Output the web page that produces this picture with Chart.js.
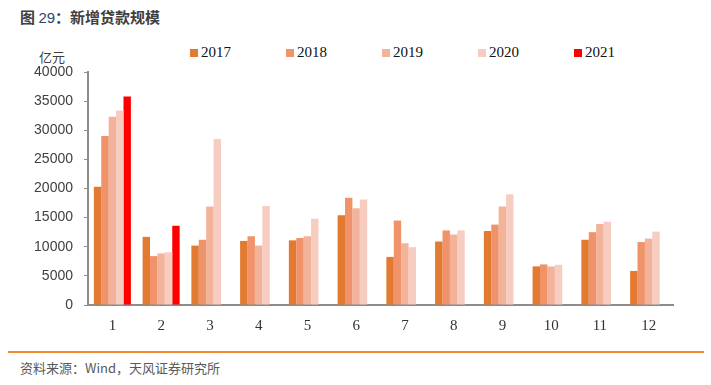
<!DOCTYPE html>
<html>
<head>
<meta charset="utf-8">
<script src="https://cdn.jsdelivr.net/npm/chart.js@4/dist/chart.umd.min.js"></script>
<style>
  body { margin: 0; background: #fff; width: 711px; height: 385px; position: relative; overflow: hidden; }
  .title { position: absolute; left: 20px; top: 6px; font: bold 15px "Noto Sans CJK SC", sans-serif; color: #404040; }
  .title .num { font-weight: normal; color: #2f4770; font-family: "Liberation Sans", Arial, sans-serif; }
  .unit { position: absolute; left: 39px; top: 47px; font: 13px "Noto Sans CJK SC", sans-serif; color: #404040; }
  #legend { position: absolute; left: 190px; top: 44px; display: flex; }
  #legend .item { width: 96px; display: flex; align-items: center; font: 15px "Liberation Serif", "Times New Roman", serif; color: #111; }
  #legend .box { width: 8px; height: 8px; margin-right: 3px; }
  .chart-box { position: absolute; left: 0; top: 0; width: 711px; height: 339px; }
  .rule { position: absolute; left: 8px; width: 696px; top: 351px; height: 2px; background: #f08a2c; }
  .source { position: absolute; left: 20px; top: 358px; font: 13px "Noto Sans CJK SC", sans-serif; color: #595959; }
</style>
</head>
<body>
<div class="title">图 <span class="num">29</span>：新增贷款规模</div>
<div class="unit">亿元</div>
<div id="legend"></div>
<div class="chart-box"><canvas id="loanChart"></canvas></div>
<div class="rule"></div>
<div class="source">资料来源：Wind，天风证券研究所</div>

<script>
// ===============================
//   DATOS (亿元)
// ===============================
const months = ["1", "2", "3", "4", "5", "6", "7", "8", "9", "10", "11", "12"];
const years = ["2017", "2018", "2019", "2020", "2021"];

const loans2017 = [20300, 11700, 10200, 11000, 11100, 15400, 8255, 10900, 12700, 6632, 11200, 5844];
const loans2018 = [29000, 8393, 11200, 11800, 11500, 18400, 14500, 12800, 13800, 6970, 12500, 10800];
const loans2019 = [32300, 8858, 16900, 10200, 11800, 16600, 10600, 12100, 16900, 6613, 13900, 11400];
const loans2020 = [33400, 9057, 28500, 17000, 14800, 18100, 9927, 12800, 19000, 6898, 14300, 12600];
const loans2021 = [35800, 13600, null, null, null, null, null, null, null, null, null, null];

const yTicks = [0, 5000, 10000, 15000, 20000, 25000, 30000, 35000, 40000];

const colors = ["#e27a31", "#f0936a", "#f3b39b", "#f7cdc1", "#ff0000"];
const series = [loans2017, loans2018, loans2019, loans2020, loans2021];

// Leyenda en HTML
const legend = document.getElementById("legend");
years.forEach((y, i) => {
  const item = document.createElement("div");
  item.className = "item";
  item.innerHTML = '<span class="box" style="background:' + colors[i] + '"></span>' + y;
  legend.appendChild(item);
});

const ctx = document.getElementById("loanChart").getContext("2d");

new Chart(ctx, {
  type: "bar",
  data: {
    labels: months,
    datasets: years.map((y, i) => ({
      label: y,
      data: series[i],
      backgroundColor: colors[i],
      borderWidth: 0,
      categoryPercentage: 0.76,
      barPercentage: 1.0
    }))
  },
  options: {
    responsive: true,
    maintainAspectRatio: false,
    animation: false,
    layout: { padding: { top: 72, right: 38, left: 0, bottom: 0 } },
    plugins: {
      legend: { display: false },
      tooltip: { enabled: false }
    },
    scales: {
      x: {
        grid: { display: false },
        border: { display: true, color: "#8c8c8c", width: 2 },
        ticks: {
          padding: 4,
          color: "#333",
          font: { family: "'Liberation Serif', 'Times New Roman', serif", size: 15 }
        }
      },
      y: {
        min: 0,
        max: 40000,
        afterFit: (scale) => { scale.width = 88; },
        afterBuildTicks: (scale) => { scale.ticks = yTicks.map(v => ({ value: v })); },
        grid: { drawOnChartArea: false, drawTicks: true, tickLength: 4, color: "#8c8c8c", lineWidth: 1 },
        border: { display: true, color: "#8c8c8c", width: 2 },
        ticks: {
          padding: 11,
          color: "#404040",
          font: { family: "'Liberation Sans', Arial, sans-serif", size: 14 },
          callback: (v) => String(v)
        }
      }
    }
  }
});
</script>
</body>
</html>
